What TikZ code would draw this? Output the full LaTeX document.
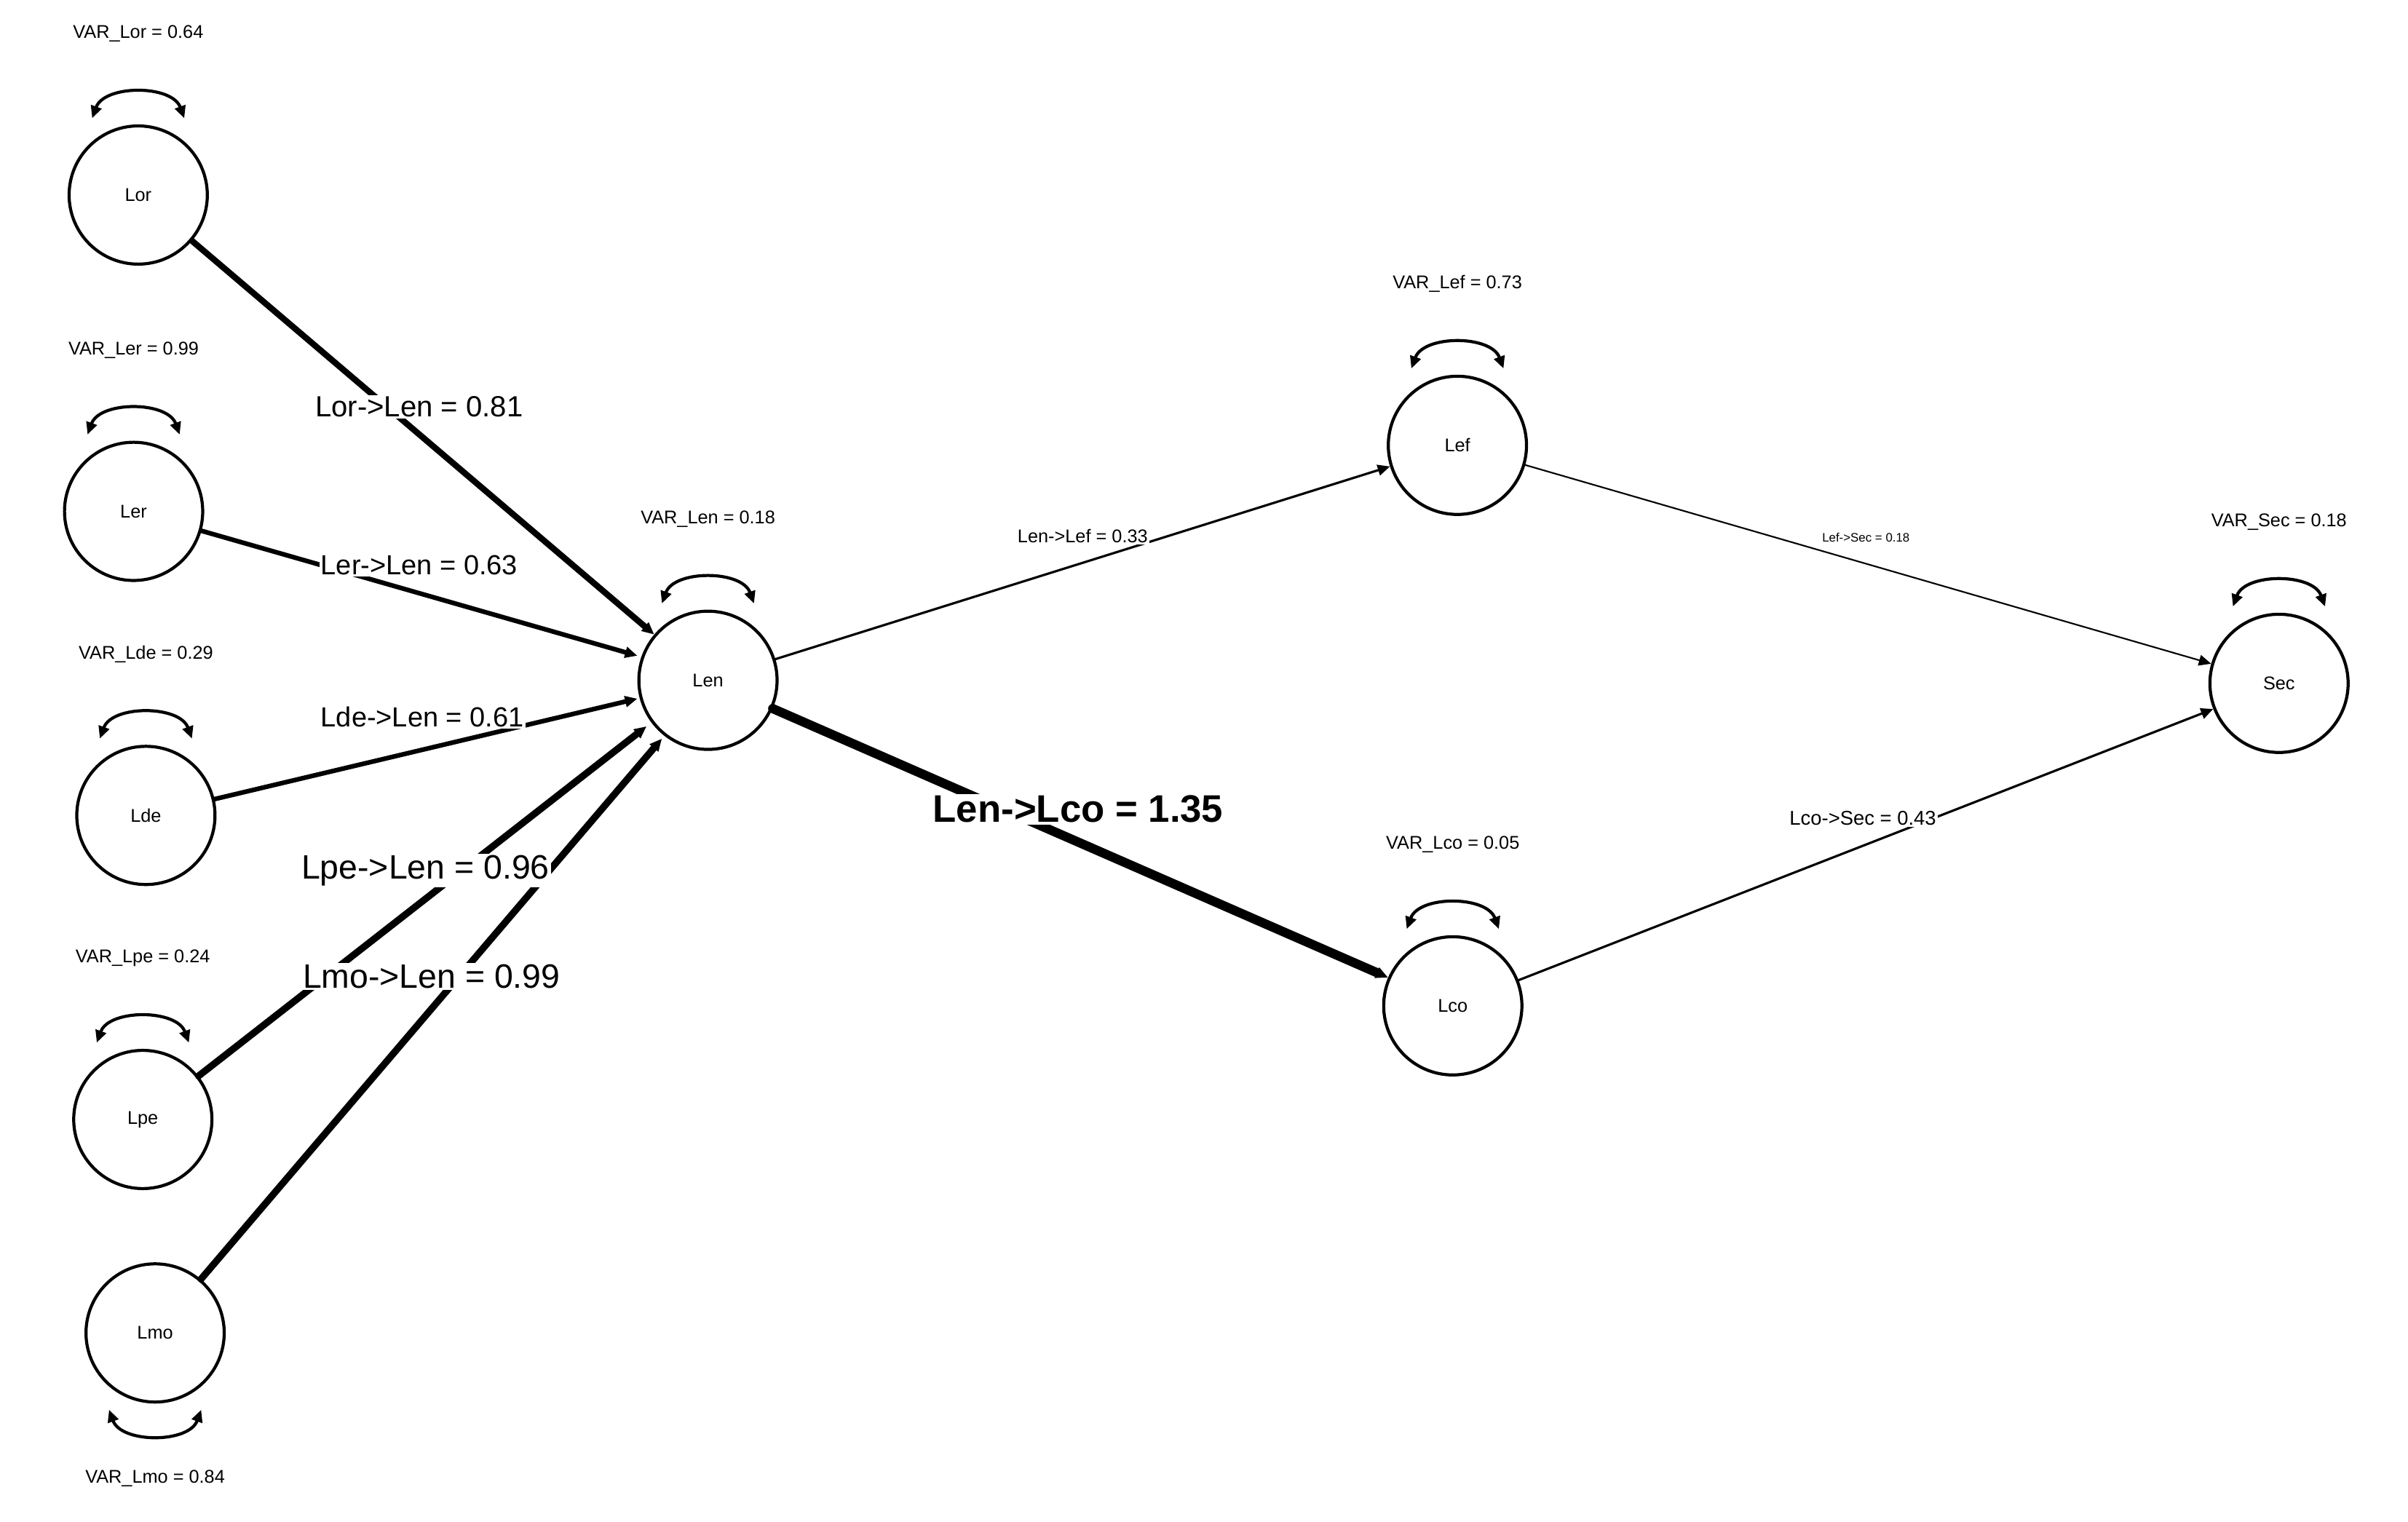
\documentclass[tikz,border=0pt]{standalone}
\usepackage{fontspec}
\setmainfont{Liberation Sans}
\usetikzlibrary{arrows.meta,calc}
\begin{document}
\begin{tikzpicture}[x=1pt,y=-1pt,
  lat/.style={circle,draw,line width=2pt,minimum size=90pt,inner sep=0pt,font=\fontsize{12}{14}\selectfont},
  var/.style={font=\fontsize{12}{14}\selectfont},
  lab/.style={fill=white,inner sep=1pt},
  arr/.style={-{Triangle[length=8pt,width=7pt]},line cap=round},
  loop/.style={{Triangle[length=8pt,width=7pt]}-{Triangle[length=8pt,width=7pt]},line width=2pt}]
\useasboundingbox[fill=white] (0,0) rectangle (1568,991);
\node[lat] (Lor) at (90,127) {Lor};
\node[lat] (Ler) at (87,333) {Ler};
\node[lat] (Lde) at (95,531) {Lde};
\node[lat] (Lpe) at (93,729) {Lpe};
\node[lat] (Lmo) at (101,868) {Lmo};
\node[lat] (Len) at (461,443) {Len};
\node[lat] (Lef) at (949,290) {Lef};
\node[lat] (Lco) at (946,655) {Lco};
\node[lat] (Sec) at (1484,445) {Sec};
\foreach \n/\t in {Lor/VAR\_Lor = 0.64,Ler/VAR\_Ler = 0.99,Lde/VAR\_Lde = 0.29,Lpe/VAR\_Lpe = 0.24,Len/VAR\_Len = 0.18,Lef/VAR\_Lef = 0.73,Lco/VAR\_Lco = 0.05,Sec/VAR\_Sec = 0.18}{
  \node[var] (v\n) at ($(\n)+(0,-105)$) {\t};
  \coordinate (a\n) at ($(\n)+(-30,-50)$);
  \coordinate (b\n) at ($(\n)+(30,-50)$);
  \draw[loop] (a\n) .. controls ($(\n)+(-22,-72)$) and ($(\n)+(22,-72)$) .. (b\n);
}
\node[var] (vLmo) at ($(Lmo)+(0,95)$) {VAR\_Lmo = 0.84};
\coordinate (aLmo) at ($(Lmo)+(-30,50)$);
\coordinate (bLmo) at ($(Lmo)+(30,50)$);
\draw[loop] (aLmo) .. controls ($(Lmo)+(-22,72)$) and ($(Lmo)+(22,72)$) .. (bLmo);
\draw[arr,line width=4pt] (Lor) -- (Len);
\draw[arr,line width=3pt] (Ler) -- ($(Len.center)+(-46,-16)$);
\draw[arr,line width=3pt] (Lde) -- ($(Len.center)+(-46,12)$);
\draw[arr,line width=4.5pt] (Lpe) -- ($(Len.center)+(-40,30)$);
\draw[arr,line width=4.5pt] (Lmo) -- ($(Len.center)+(-30,38)$);
\draw[arr,line width=1.5pt] (Len) -- (Lef);
\draw[arr,line width=6pt] (Len) -- (Lco);
\draw[arr,line width=1pt] (Lef) -- (Sec);
\draw[arr,line width=1.5pt] (Lco) -- (Sec);
\node[lab,font=\fontsize{19}{21}\selectfont] (l1) at (273,265) {Lor->Len = 0.81};
\node[lab,font=\fontsize{18}{20}\selectfont] (l2) at (273,368) {Ler->Len = 0.63};
\node[lab,font=\fontsize{18}{20}\selectfont] (l3) at (275,467) {Lde->Len = 0.61};
\node[lab,font=\fontsize{22}{24}\selectfont] (l4) at (277,567) {Lpe->Len = 0.96};
\node[lab,font=\fontsize{22}{24}\selectfont] (l5) at (281,636) {Lmo->Len = 0.99};
\node[lab,font=\fontsize{12}{14}\selectfont] (l6) at (705,349) {Len->Lef = 0.33};
\node[lab,font=\bfseries\fontsize{25}{27}\selectfont] (l7) at (702,527) {Len->Lco = 1.35};
\node[lab,font=\fontsize{8}{10}\selectfont] (l8) at (1215,350) {Lef->Sec = 0.18};
\node[lab,font=\fontsize{13}{15}\selectfont] (l9) at (1213,533) {Lco->Sec = 0.43};
\end{tikzpicture}
\end{document}
